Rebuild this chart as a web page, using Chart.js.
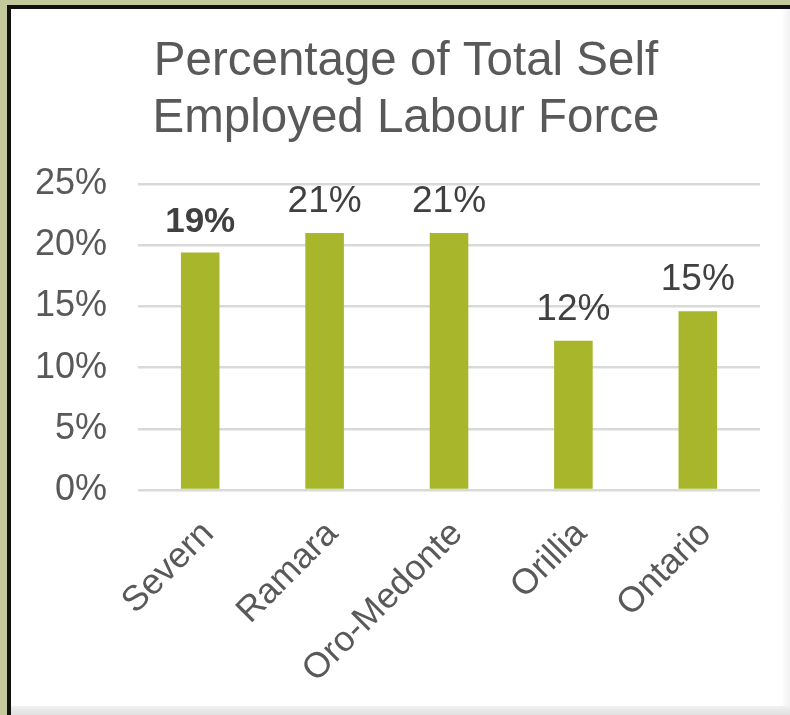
<!DOCTYPE html>
<html><head><meta charset="utf-8">
<script src="https://cdn.jsdelivr.net/npm/chart.js@4"></script>
<style>
html,body{margin:0;padding:0;}
body{width:790px;height:715px;background:#c4c99b;position:relative;overflow:hidden;}
#frame{position:absolute;left:7px;top:5px;width:783px;height:710px;background:#fff;border-left:4px solid #111;border-top:4px solid #111;box-sizing:border-box;}
#shadowB{position:absolute;left:11px;top:706px;width:779px;height:9px;background:linear-gradient(#f2f2f2,#dedede);}
#shadowR{position:absolute;left:781px;top:9px;width:9px;height:697px;background:linear-gradient(to right,#fff,#f1f1f1);}
canvas{position:absolute;left:0;top:0;}
</style></head>
<body>
<div id="frame"></div><div id="shadowR"></div><div id="shadowB"></div>
<canvas id="c" width="790" height="715"></canvas>
<script>
const categories = ['Severn', 'Ramara', 'Oro-Medonte', 'Orillia', 'Ontario'];
const selfEmployedPct = [19.4, 21.0, 21.0, 12.2, 14.6];
const yTickValues = [0, 5, 10, 15, 20, 25];
const titleLines = ['Percentage of Total Self', 'Employed Labour Force'];

const BOLD_LABEL_INDEX = 0;
const FONT = '"Liberation Sans", Arial, sans-serif';

const valueLabelPlugin = {
  id: 'valueLabels',
  afterDatasetsDraw(chart) {
    const ctx = chart.ctx;
    const meta = chart.getDatasetMeta(0);
    const vals = chart.data.datasets[0].data;
    ctx.save();
    ctx.textAlign = 'center';
    ctx.textBaseline = 'alphabetic';
    meta.data.forEach((bar, i) => {
      const bold = i === BOLD_LABEL_INDEX;
      ctx.font = (bold ? 'bold 35px ' : '37px ') + FONT;
      ctx.fillStyle = '#404040';
      ctx.fillText(Math.round(vals[i]) + '%', bar.x, bar.y - 21);
    });
    ctx.restore();
  }
};

const titleShiftPlugin = {
  id: 'titleShift',
  afterLayout(chart) {
    if (chart.titleBlock) { chart.titleBlock.left += 32; }
  }
};

new Chart(document.getElementById('c'), {
  type: 'bar',
  data: {
    labels: categories,
    datasets: [{
      data: selfEmployedPct,
      backgroundColor: '#a7b62a',
      borderWidth: 0,
      barPercentage: 0.31,
      categoryPercentage: 1.0
    }]
  },
  options: {
    responsive: false,
    animation: false,
    devicePixelRatio: 1,
    layout: { padding: { left: 20, right: 30, top: 0, bottom: 0 } },
    plugins: {
      legend: { display: false },
      tooltip: { enabled: false },
      title: {
        display: true,
        text: titleLines,
        color: '#595959',
        font: { family: FONT, size: 47.5, weight: 'normal', lineHeight: 1.2 },
        padding: { top: 33, bottom: 37 }
      }
    },
    scales: {
      x: {
        grid: { display: false },
        border: { display: false },
        ticks: {
          color: '#595959',
          font: { family: FONT, size: 35.5 },
          minRotation: 45,
          maxRotation: 45,
          padding: 15,
          labelOffset: 8
        },
        afterFit(scale) { scale.height = 225; }
      },
      y: {
        min: 0,
        max: 25,
        afterBuildTicks(scale) { scale.ticks = yTickValues.map(v => ({ value: v })); },
        grid: { color: '#d9d9d9', lineWidth: 2.5, drawTicks: false },
        border: { display: false },
        ticks: {
          color: '#595959',
          font: { family: FONT, size: 36 },
          padding: 31,
          callback: v => v + '%'
        },
        afterFit(scale) { scale.width = 118; }
      }
    }
  },
  plugins: [valueLabelPlugin, titleShiftPlugin]
});
</script>
</body></html>
